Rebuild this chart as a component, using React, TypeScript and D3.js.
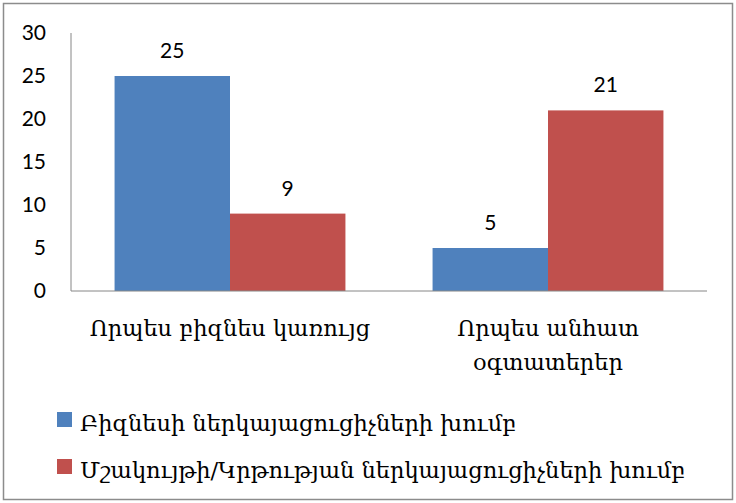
import { useEffect, useRef } from 'react'
import * as d3 from 'd3'

const WIDTH = 736
const HEIGHT = 503
const PLOT = { left: 71, right: 707, top: 33, bottom: 291 }

const CATEGORIES = ['Որպես բիզնես կառույց', 'Որպես անհատ օգտատերեր']
const CATEGORY_LINES = [['Որպես բիզնես կառույց'], ['Որպես անհատ', 'օգտատերեր']]
const SERIES_NAMES = [
  'Բիզնեսի ներկայացուցիչների խումբ',
  'Մշակույթի/Կրթության ներկայացուցիչների խումբ',
]
const BUSINESS_VALUES = [25, 5]
const CULTURE_VALUES = [9, 21]
const SERIES_COLORS = ['#4F81BD', '#C0504D']
const Y_TICKS = [0, 5, 10, 15, 20, 25, 30]

const NUM_FONT = 'Lato, "Open Sans", sans-serif'
const ARM_FONT = '"DejaVu Serif", "Noto Serif", serif'

export default function App() {
  const svgRef = useRef<SVGSVGElement>(null)

  useEffect(() => {
    document.body.style.margin = '0'
    const svg = d3.select(svgRef.current!)
    svg.selectAll('*').remove()

    svg.append('rect')
      .attr('x', 3.5).attr('y', 3.5).attr('width', WIDTH - 7).attr('height', HEIGHT - 7)
      .attr('fill', '#fff').attr('stroke', '#8C8C8C').attr('stroke-width', 1.5)

    const x0 = d3.scaleBand<string>()
      .domain(CATEGORIES)
      .range([PLOT.left, PLOT.right])
      .paddingInner(0.274).paddingOuter(0.137)
    const x1 = d3.scaleBand<number>()
      .domain([0, 1])
      .range([0, x0.bandwidth()])
    const y = d3.scaleLinear([0, 30], [PLOT.bottom, PLOT.top])

    const series = [BUSINESS_VALUES, CULTURE_VALUES]

    // ── Bars + value labels ────────────────────────────────────────────────────
    CATEGORIES.forEach((cat, ci) => {
      series.forEach((vals, si) => {
        const bx = x0(cat)! + x1(si)!
        svg.append('rect')
          .attr('x', bx).attr('y', y(vals[ci]))
          .attr('width', x1.bandwidth()).attr('height', y(0) - y(vals[ci]))
          .attr('fill', SERIES_COLORS[si])
        svg.append('text')
          .attr('x', bx + x1.bandwidth() / 2).attr('y', y(vals[ci]) - 18)
          .attr('text-anchor', 'middle').attr('font-family', NUM_FONT).attr('font-size', 21)
          .attr('fill', '#000')
          .text(vals[ci])
      })
    })

    // ── Axes ───────────────────────────────────────────────────────────────────
    svg.append('line')
      .attr('x1', PLOT.left).attr('x2', PLOT.left)
      .attr('y1', y(30)).attr('y2', y(0))
      .attr('stroke', '#868686').attr('stroke-width', 1)
    svg.append('line')
      .attr('x1', PLOT.left).attr('x2', PLOT.right)
      .attr('y1', y(0)).attr('y2', y(0))
      .attr('stroke', '#868686').attr('stroke-width', 1)

    Y_TICKS.forEach(t => {
      svg.append('text')
        .attr('x', 46).attr('y', y(t)).attr('dy', '0.35em')
        .attr('text-anchor', 'end').attr('font-family', NUM_FONT).attr('font-size', 21)
        .attr('fill', '#000')
        .text(t)
    })

    // ── Category labels ────────────────────────────────────────────────────────
    CATEGORIES.forEach((cat, ci) => {
      const cx = x0(cat)! + x0.bandwidth() / 2
      CATEGORY_LINES[ci].forEach((line, li) => {
        svg.append('text')
          .attr('x', cx).attr('y', 336 + li * 34)
          .attr('text-anchor', 'middle').attr('font-family', ARM_FONT).attr('font-size', 22.5)
          .attr('fill', '#000')
          .text(line)
      })
    })

    // ── Legend ─────────────────────────────────────────────────────────────────
    SERIES_NAMES.forEach((name, si) => {
      const ly = 431 + si * 47
      svg.append('rect')
        .attr('x', 57).attr('y', ly - 19).attr('width', 15).attr('height', 15)
        .attr('fill', SERIES_COLORS[si])
      svg.append('text')
        .attr('x', 80).attr('y', ly)
        .attr('font-family', ARM_FONT).attr('font-size', 22.5).attr('fill', '#000')
        .text(name)
    })
  }, [])

  return <svg ref={svgRef} width={WIDTH} height={HEIGHT} style={{ display: 'block' }} />
}
